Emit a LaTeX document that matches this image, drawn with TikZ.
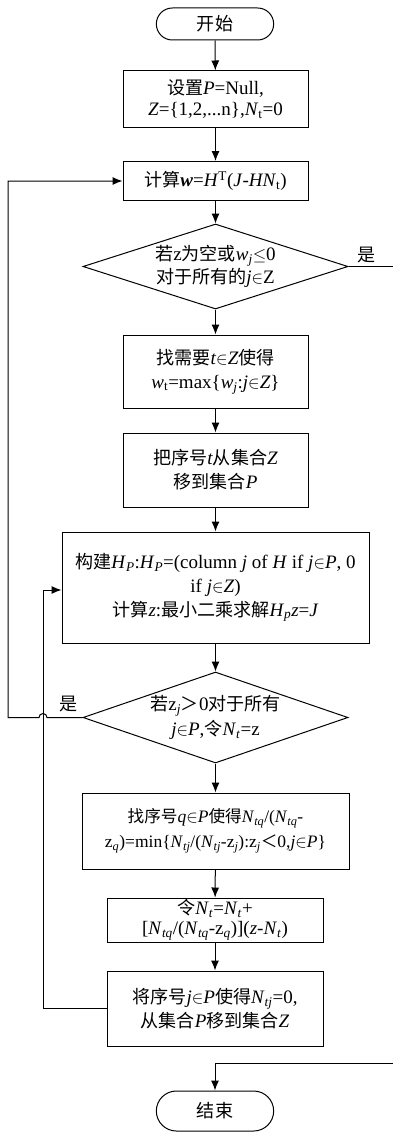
\documentclass[tikz,border=0pt]{standalone}
\usepackage{fontspec}
\setmainfont{Liberation Serif}
\newfontfamily\cjk[Scale=0.95]{Noto Sans CJK SC}
\usetikzlibrary{shapes.geometric,shapes.misc,arrows.meta}
\newcommand\zh[1]{{\cjk #1}}
\newcommand\iv[1]{\textit{#1}}
\newcommand\sbs[1]{\textsubscript{#1}}
\begin{document}
\begin{tikzpicture}[x=1pt,y=-1pt,line width=1pt,
  >={Latex[length=10pt,width=8pt]},
  font=\fontsize{19}{21}\selectfont,
  box/.style={draw,rectangle,align=center,inner sep=1pt},
  term/.style={draw,rounded rectangle,minimum width=124pt,minimum height=32pt},
  dec/.style={draw,diamond,inner sep=0pt},
  dtext/.style={align=center,inner sep=0pt,font=\fontsize{19}{23}\selectfont},
  lbl/.style={inner sep=0pt}]
\useasboundingbox (0,0) rectangle (393,1132);
\fill[white] (0,0) rectangle (393,1132);
\node[term] (start) at (215,24) {\zh{开始}};
\node[box,minimum width=185pt,minimum height=56pt] (b1) at (215.5,99)
  {\zh{设置}\iv{P}=Null,\\\iv{Z}=\{1,2,...n\},\iv{N}\sbs{t}=0};
\node[box,minimum width=185pt,minimum height=39pt] (b2) at (215.5,181)
  {\zh{计算}\textbf{\iv{w}}=\iv{H}\textsuperscript{T}(\iv{J}-\iv{HN}\sbs{t})};
\node[dec,minimum width=265pt,minimum height=85pt] (d1) at (215.5,266.5) {};
\node[dtext] (d1t) at (d1.center)
  {\zh{若}z\zh{为空或}\iv{w}\sbs{\iv{j}}$\leq$0\\\zh{对于所有的}\iv{j}$\in$Z};
\node[box,minimum width=185pt,minimum height=73pt,font=\fontsize{19}{24}\selectfont] (b3) at (215.5,371.5)
  {\zh{找需要}\iv{t}$\in$\iv{Z}\zh{使得}\\\iv{w}\sbs{t}=max\{\iv{w}\sbs{\iv{j}}:\iv{j}$\in$\iv{Z}\}};
\node[box,minimum width=185pt,minimum height=74pt,font=\fontsize{19}{24}\selectfont] (b4) at (215.5,470)
  {\zh{把序号}\iv{t}\zh{从集合}\iv{Z}\\\zh{移到集合}\iv{P}};
\node[box,minimum width=307pt,minimum height=111pt,font=\fontsize{19}{24}\selectfont] (b5) at (215.5,587.5)
  {\zh{构建}\iv{H}\sbs{\iv{P}}:\iv{H}\sbs{\iv{P}}=(column \iv{j} of \iv{H} if \iv{j}$\in$\iv{P}, 0\\if \iv{j}$\in$\iv{Z})\\\zh{计算}\iv{z}:\zh{最小二乘求解}\iv{H}\sbs{\iv{p}}\iv{z}=\iv{J}};
\node[dec,minimum width=265pt,minimum height=91pt] (d2) at (215.5,717.5) {};
\node[dtext,font=\fontsize{19}{25}\selectfont] (d2t) at (d2.center)
  {\zh{若}z\sbs{\iv{j}}\zh{＞}0\zh{对于所有}\\\iv{j}$\in$\iv{P},\zh{令}\iv{N}\sbs{\iv{t}}=z};
\node[box,minimum width=267pt,minimum height=76pt,font=\fontsize{17.5}{25}\selectfont] (b6) at (215.5,831)
  {\zh{找序号}\iv{q}$\in$\iv{P}\zh{使得}\iv{N}\sbs{\iv{tq}}/(\iv{N}\sbs{\iv{tq}}-\\z\sbs{\iv{q}})=min\{\iv{N}\sbs{\iv{tj}}/(\iv{N}\sbs{\iv{tj}}-z\sbs{\iv{j}}):z\sbs{\iv{j}}\zh{＜}0,\iv{j}$\in$\iv{P}\}};
\node[box,minimum width=216pt,minimum height=44pt,font=\fontsize{19}{20}\selectfont] (b7) at (215,920)
  {\zh{令}\iv{N}\sbs{\iv{t}}=\iv{N}\sbs{\iv{t}}+\\{}[\iv{N}\sbs{\iv{tq}}/(\iv{N}\sbs{\iv{tq}}-z\sbs{\iv{q}})](\iv{z}-\iv{N}\sbs{\iv{t}})};
\node[box,minimum width=216pt,minimum height=75pt,font=\fontsize{19}{24}\selectfont] (b8) at (215,1008.5)
  {\zh{将序号}\iv{j}$\in$\iv{P}\zh{使得}\iv{N}\sbs{\iv{tj}}=0,\\\zh{从集合}\iv{P}\zh{移到集合}\iv{Z}};
\node[term,minimum height=40pt] (end) at (215,1111) {\zh{结束}};
% main flow
\draw[->] (start) -- (b1);
\draw[->] (b1) -- (b2);
\draw[->] (b2) -- (d1);
\draw[->] (d1) -- (b3);
\draw[->] (b3) -- (b4);
\draw[->] (b4) -- (b5);
\draw[->] (b5) -- (d2);
\draw[->] (d2) -- (b6);
\draw[->] (b6) -- (b7);
\draw[->] (b7) -- (b8);
% yes exit from d1
\coordinate (rE) at (393,266.5);
\draw (d1.east) -- (rE);
\node[lbl] (yes1) at (366.5,255) {\zh{是}};
% end entry
\coordinate (rE2) at (393,1063);
\draw[->] (rE2) -| (end.north);
% outer loop from d2
\coordinate (hopR) at (47,717.5);
\coordinate (lft) at (8,717.5);
\draw[->] (d2.west) -- (hopR) arc (0:-180:4) -- (lft) |- (b2.west);
\node[lbl] (yes2) at (68.5,704) {\zh{是}};
% inner loop from b8
\coordinate (iy) at (0,590);
\coordinate (ic) at (43,590);
\draw[->] (b8.west) -| (ic) -- (b5.west |- iy);
\end{tikzpicture}
\end{document}
